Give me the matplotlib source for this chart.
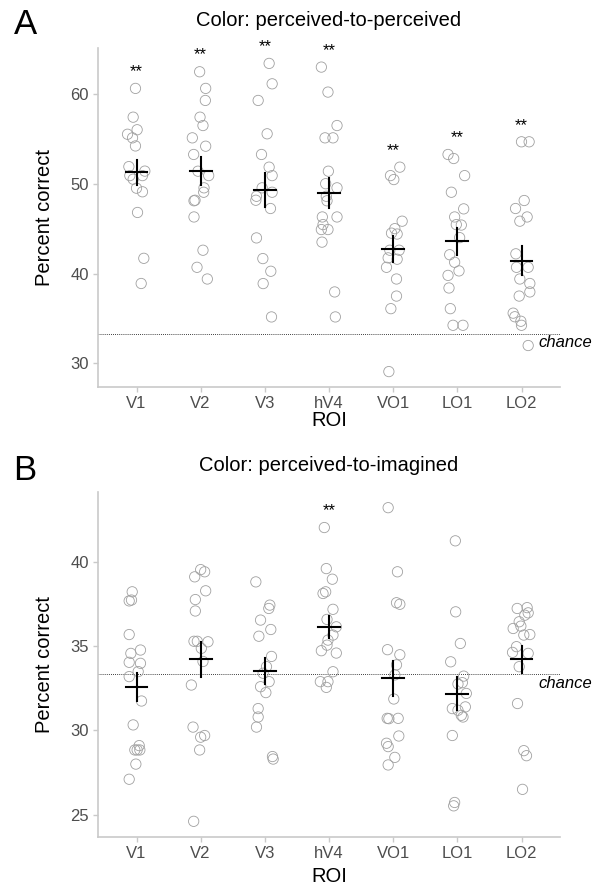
import numpy as np
import matplotlib
matplotlib.use("Agg")
import matplotlib.pyplot as plt

plt.rcParams['font.family'] = ['Liberation Sans', 'DejaVu Sans']

rois = ["V1", "V2", "V3", "hV4", "VO1", "LO1", "LO2"]
chance = 100 / 3

# panel A: perceived-to-perceived, percent correct per subject (one row per ROI)
pp_vals = [
    [60.6, 57.4, 56.0, 55.5, 55.1, 54.2, 51.9, 51.4, 50.9, 50.9, 50.5, 49.5, 49.1, 46.8, 41.7, 38.9],
    [62.45, 60.6, 59.26, 57.4, 56.47, 55.1, 54.17, 53.25, 51.39, 50.9, 49.54, 49.05, 48.16, 48.1, 46.3, 42.6, 40.7, 39.4],
    [63.38, 61.11, 59.26, 55.55, 53.25, 51.84, 50.9, 49.54, 49.05, 48.6, 48.16, 47.24, 43.97, 41.67, 40.26, 38.89, 35.18],
    [62.97, 60.19, 56.47, 55.1, 55.1, 51.39, 50.0, 49.54, 48.6, 48.1, 46.3, 46.3, 45.45, 44.9, 44.9, 43.5, 37.96, 35.18],
    [51.84, 50.9, 50.46, 45.83, 45.0, 44.5, 44.4, 42.6, 42.6, 41.75, 41.6, 40.7, 39.4, 37.5, 36.1, 29.1],
    [53.25, 52.8, 50.9, 49.05, 47.2, 46.3, 45.45, 45.4, 44.0, 42.1, 41.26, 40.3, 39.8, 38.4, 36.1, 34.25, 34.25],
    [54.66, 54.66, 48.13, 47.24, 46.3, 45.83, 42.2, 40.7, 40.7, 39.4, 38.9, 37.96, 37.5, 35.6, 35.2, 34.7, 34.25, 32.0],
]
# horizontal jitter (ROI units)
pp_jit = [
    [-0.016, -0.052, 0.010, -0.140, -0.062, -0.016, -0.119, 0.130, -0.104, 0.093, -0.052, 0.0, 0.093, 0.016, 0.114, 0.073],
    [-0.016, 0.078, 0.073, -0.010, 0.036, -0.130, 0.078, -0.109, -0.042, 0.125, 0.052, 0.047, -0.088, -0.104, -0.104, 0.036, -0.057, 0.104],
    [0.067, 0.114, -0.104, 0.036, -0.052, 0.067, 0.114, -0.042, 0.114, -0.130, -0.140, 0.088, -0.130, -0.031, 0.093, -0.026, 0.104],
    [-0.119, -0.016, 0.125, -0.062, 0.062, -0.010, -0.052, 0.125, -0.042, -0.031, 0.125, -0.104, -0.093, -0.119, -0.016, -0.109, 0.088, 0.099],
    [0.104, -0.042, 0.010, 0.140, 0.026, -0.026, 0.062, -0.052, 0.093, -0.078, 0.062, -0.104, 0.052, 0.052, -0.036, -0.067],
    [-0.145, -0.057, 0.114, -0.093, 0.099, -0.042, -0.016, 0.062, 0.036, -0.119, -0.042, 0.026, -0.145, -0.130, -0.109, -0.067, 0.088],
    [0.0, 0.119, 0.042, -0.093, 0.088, -0.026, -0.088, -0.078, 0.104, -0.026, 0.130, 0.130, -0.036, -0.130, -0.104, -0.010, 0.0, 0.104],
]
pp_sig = [True, True, True, True, True, True, True]

# panel B: perceived-to-imagined
pi_vals = [
    [38.24, 37.7, 37.75, 35.7, 34.78, 34.58, 34.05, 33.99, 33.5, 33.2, 31.75, 30.33, 29.1, 28.84, 28.84, 28.84, 28.0, 27.1],
    [39.56, 39.43, 39.13, 38.3, 37.78, 37.1, 35.3, 35.3, 35.27, 34.88, 34.1, 32.7, 30.2, 29.6, 29.7, 28.84, 24.6],
    [38.83, 37.45, 37.25, 36.56, 36.0, 35.6, 34.4, 33.79, 33.4, 32.9, 32.6, 32.25, 31.3, 30.8, 30.2, 28.45, 28.3],
    [42.06, 39.62, 38.99, 38.14, 38.24, 37.2, 36.6, 36.16, 35.67, 35.37, 35.07, 34.74, 34.6, 33.49, 32.9, 32.9, 32.56],
    [43.24, 39.43, 37.59, 37.5, 34.8, 34.5, 33.9, 33.3, 31.87, 30.72, 30.7, 30.72, 29.67, 29.24, 29.04, 28.4, 27.95],
    [41.27, 37.05, 35.17, 34.08, 33.23, 32.84, 32.76, 32.2, 31.3, 31.2, 31.4, 30.9, 30.8, 29.7, 25.72, 25.52],
    [37.25, 37.3, 36.99, 36.46, 36.06, 35.67, 35.7, 34.98, 34.64, 34.58, 33.79, 31.6, 28.8, 28.5, 26.5, 36.2, 36.85],
]
pi_jit = [
    [-0.067, -0.114, -0.078, -0.114, 0.062, -0.088, -0.114, 0.062, 0.026, -0.114, 0.078, -0.052, 0.042, -0.026, 0.052, 0.010, -0.010, -0.114],
    [0.0, 0.062, -0.093, 0.078, -0.083, -0.083, -0.104, -0.052, 0.114, 0.010, 0.036, -0.145, -0.119, 0.0, 0.062, -0.016, -0.109],
    [-0.140, 0.078, 0.062, -0.067, 0.093, -0.093, 0.104, 0.026, -0.026, 0.067, -0.067, 0.016, -0.104, -0.104, -0.130, 0.119, 0.130],
    [-0.073, -0.042, 0.052, -0.093, -0.052, 0.062, -0.031, 0.114, 0.062, -0.016, -0.031, -0.119, 0.114, 0.062, -0.135, -0.016, -0.042],
    [-0.078, 0.067, 0.052, 0.104, -0.088, 0.104, 0.052, 0.026, 0.010, -0.093, -0.067, 0.078, 0.088, -0.104, -0.078, 0.026, -0.078],
    [-0.031, -0.026, 0.047, -0.104, 0.099, 0.078, 0.010, 0.140, -0.078, 0.010, 0.125, 0.062, 0.088, -0.078, -0.042, -0.057],
    [-0.067, 0.088, 0.104, -0.036, -0.130, 0.036, 0.130, -0.078, -0.140, 0.104, -0.036, -0.062, 0.036, 0.078, 0.016, -0.010, 0.052],
]
pi_sig = [False, False, False, True, False, False, False]

W, H = 601, 886
GREY_AX = '#c9c9c9'
GREY_TXT = '#4d4d4d'


def panel(box, vals, jit, sig, yticks, title, letter, title_y, letter_y, roi_y):
    l, t, r, b = box
    ax = plt.gcf().add_axes([l / W, 1 - b / H, (r - l) / W, (b - t) / H])
    xs = np.arange(1, len(rois) + 1)
    for i, (v, j) in enumerate(zip(vals, jit)):
        v = np.array(v)
        ax.scatter(xs[i] + np.array(j), v, s=55, facecolors='none',
                   edgecolors='#a0a0a0', linewidths=0.6, zorder=2)
        m = v.mean()
        se = v.std(ddof=1) / np.sqrt(len(v))
        ax.plot([xs[i] - 0.17, xs[i] + 0.17], [m, m], color='black', lw=1.5, zorder=3)
        ax.plot([xs[i], xs[i]], [m - se, m + se], color='black', lw=1.5, zorder=3)
        if sig[i]:
            ax.annotate('**', xy=(xs[i], v.max()), xytext=(0, 12),
                        textcoords='offset points', ha='center', va='center',
                        fontsize=12, annotation_clip=False)
    ax.axhline(chance, color='black', lw=0.6, ls=(0, (1, 1.5)), zorder=1)
    ax.annotate('chance', xy=(7.27, chance), xytext=(0, -6.5),
                textcoords='offset points', ha='left', va='center',
                fontsize=12, style='italic', annotation_clip=False)

    allv = np.concatenate([np.array(v) for v in vals])
    lo, hi = allv.min(), allv.max()
    pad = 0.05 * (hi - lo)
    ax.set_ylim(lo - pad, hi + pad)
    ax.set_xlim(0.4, 7.6)
    ax.set_xticks(xs)
    ax.set_xticklabels(rois)
    ax.set_yticks(yticks)
    for s in ['top', 'right']:
        ax.spines[s].set_visible(False)
    for s in ['left', 'bottom']:
        ax.spines[s].set_color(GREY_AX)
        ax.spines[s].set_linewidth(1.2)
    ax.tick_params(colors=GREY_AX, labelcolor=GREY_TXT, labelsize=12,
                   length=3.5, width=1.0, pad=3)

    cx = (l + r) / 2
    fig = plt.gcf()
    fig.text(cx / W, 1 - title_y / H, title, ha='center', va='center', fontsize=14.5)
    fig.text(25 / W, 1 - letter_y / H, letter, ha='center', va='center', fontsize=25)
    fig.text(45 / W, 1 - (t + b) / 2 / H, 'Percent correct', rotation=90,
             ha='center', va='center', fontsize=14.5)
    fig.text(cx / W, 1 - roi_y / H, 'ROI', ha='center', va='center', fontsize=14.5)
    return ax


fig = plt.figure(figsize=(W / 100, H / 100), dpi=100)
panel((98, 48, 560, 387), pp_vals, pp_jit, pp_sig, [30, 40, 50, 60],
      'Color: perceived-to-perceived', 'A', 20, 25, 420)
panel((98, 492, 560, 837), pi_vals, pi_jit, pi_sig, [25, 30, 35, 40],
      'Color: perceived-to-imagined', 'B', 466, 471, 876)
fig.savefig('out.png', dpi=100)
